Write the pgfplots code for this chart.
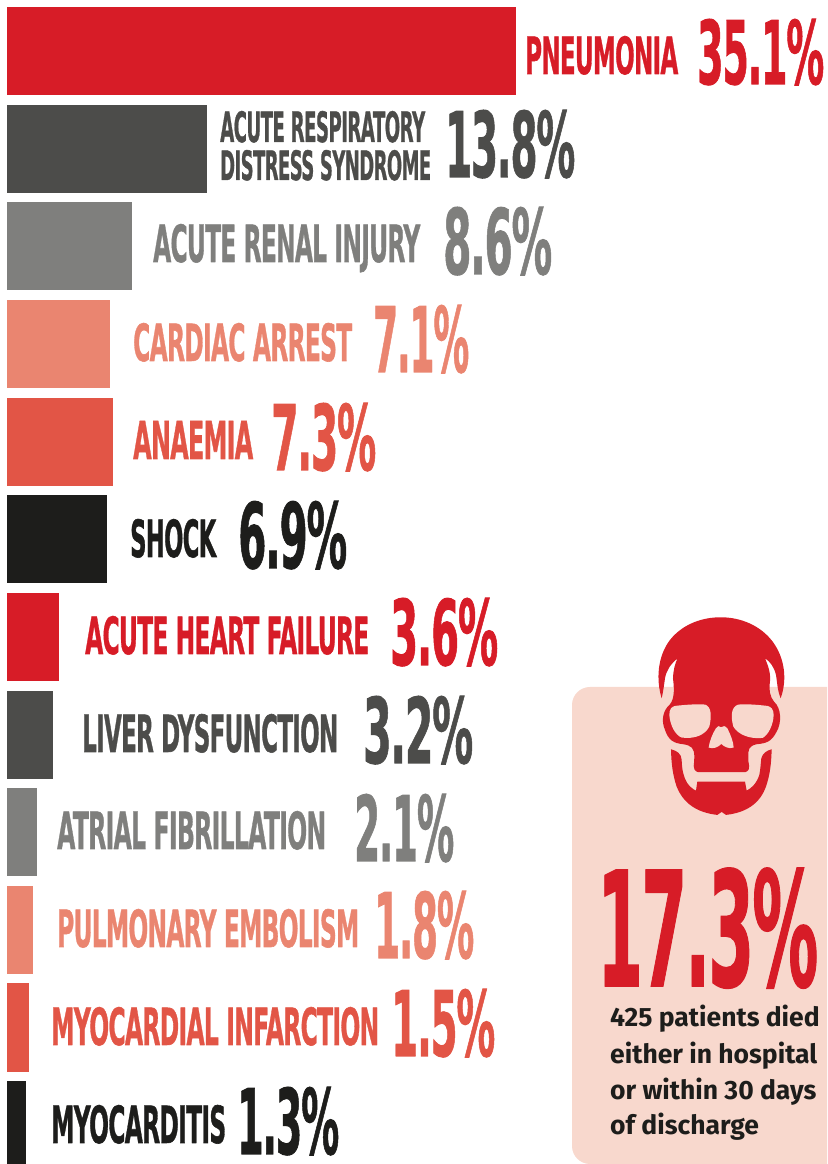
\documentclass[border=0pt]{standalone}
\usepackage{fontspec}
\setmainfont{Fira Sans}
\newfontfamily\headfont{DejaVu Sans}[BoldFont={DejaVu Sans Bold},BoldFeatures={LetterSpace=-3,FakeBold=1.2}]
\usepackage{graphicx}
\usepackage{pgfplots}
\pgfplotsset{compat=1.18}
\definecolor{cred}{HTML}{D71C27}
\definecolor{cdark}{HTML}{4C4C4A}
\definecolor{cgrey}{HTML}{7F7F7D}
\definecolor{csalmon}{HTML}{EA8570}
\definecolor{ccoral}{HTML}{E25546}
\definecolor{cblack}{HTML}{1D1D1B}
\definecolor{cpanel}{HTML}{F8D8CD}
% text stretched to a box given in reference pixels: x0,y0,x1,y1
\newcommand{\fit}[6]{%
  \pgfmathsetmacro{\fw}{#3-#1}\pgfmathsetmacro{\fh}{#4-#2}%
  \node[anchor=base west,inner sep=0pt,text=#5] at (#1,#4)
    {\resizebox{\fw pt}{\fh pt}{\headfont\bfseries #6}};}
\begin{document}
\begin{tikzpicture}
% hide axis leaves no frame, so fix the page size here
\path[use as bounding box] (0,0) rectangle (827pt,1164pt);
% panel behind the skull
\begin{scope}[x=1pt,y=-1pt,yshift=1164pt]
\fill[cpanel] (827,687) -- (590,687) arc[start angle=90,end angle=180,radius=18pt]
  -- (572,1146) arc[start angle=180,end angle=270,radius=18pt] -- (827,1164) -- cycle;
\end{scope}
\begin{axis}[
    at={(0pt,0pt)}, anchor=south west,
    scale only axis, width=827pt, height=1164pt,
    hide axis, xbar, bar width=88pt, bar shift=0pt,
    xmin=-0.483, xmax=56.55,
    y dir=reverse, ymin=-0.5223, ymax=11.398,
]
\addplot[draw=none,fill=cred] coordinates {(35.1,0)};
\addplot[draw=none,fill=cdark] coordinates {(13.8,1)};
\addplot[draw=none,fill=cgrey] coordinates {(8.6,2)};
\addplot[draw=none,fill=csalmon] coordinates {(7.1,3)};
\addplot[draw=none,fill=ccoral] coordinates {(7.3,4)};
\addplot[draw=none,fill=cblack] coordinates {(6.9,5)};
\addplot[draw=none,fill=cred] coordinates {(3.6,6)};
\addplot[draw=none,fill=cdark] coordinates {(3.2,7)};
\addplot[draw=none,fill=cgrey] coordinates {(2.1,8)};
\addplot[draw=none,fill=csalmon] coordinates {(1.8,9)};
\addplot[draw=none,fill=ccoral] coordinates {(1.5,10)};
\addplot[draw=none,fill=cblack] coordinates {(1.3,11)};
\end{axis}
\begin{scope}[x=1pt,y=-1pt,yshift=1164pt]
\fit{525}{36}{678}{74}{cred}{PNEUMONIA}
\fit{697}{19}{824}{84}{cred}{35.1\%}
\fit{220}{111}{425}{142}{cdark}{ACUTE RESPIRATORY}
\fit{220}{150}{431}{180}{cdark}{DISTRESS SYNDROME}
\fit{445}{110}{575}{177}{cdark}{13.8\%}
\fit{153}{224}{420}{262}{cgrey}{ACUTE RENAL INJURY}
\fit{443}{207}{552}{274}{cgrey}{8.6\%}
\fit{133}{323}{352}{361}{csalmon}{CARDIAC ARREST}
\fit{373}{305}{469}{372}{csalmon}{7.1\%}
\fit{133}{421}{253}{459}{ccoral}{ANAEMIA}
\fit{271}{403}{376}{470}{ccoral}{7.3\%}
\fit{130}{519}{216}{557}{cblack}{SHOCK}
\fit{238}{501}{347}{568}{cblack}{6.9\%}
\fit{85}{616}{369}{654}{cred}{ACUTE HEART FAILURE}
\fit{390}{598}{498}{665}{cred}{3.6\%}
\fit{82}{714}{338}{752}{cdark}{LIVER DYSFUNCTION}
\fit{363}{696}{473}{763}{cdark}{3.2\%}
\fit{57}{811}{326}{849}{cgrey}{ATRIAL FIBRILLATION}
\fit{354}{794}{454}{861}{cgrey}{2.1\%}
\fit{57}{909}{359}{947}{csalmon}{PULMONARY EMBOLISM}
\fit{374}{891}{474}{958}{csalmon}{1.8\%}
\fit{51}{1007}{379}{1045}{ccoral}{MYOCARDIAL INFARCTION}
\fit{391}{989}{495}{1056}{ccoral}{1.5\%}
\fit{51}{1105}{226}{1143}{cblack}{MYOCARDITIS}
\fit{237}{1087}{339}{1154}{cblack}{1.3\%}
\fit{597}{868}{818}{986}{cred}{17.3\%}
\begin{scope}[font=\fontsize{26.5pt}{30pt}\selectfont\bfseries,text=cblack]
\node[anchor=base west,inner sep=0pt] at (610,1027) {425 patients died};
\node[anchor=base west,inner sep=0pt] at (610,1064) {either in hospital};
\node[anchor=base west,inner sep=0pt] at (610,1100) {or within 30 days};
\node[anchor=base west,inner sep=0pt] at (610,1135) {of discharge};
\end{scope}
\end{scope}
% skull, in zoomed reference pixels
\begin{scope}[x=0.3333pt,y=-0.3333pt,yshift=1164pt,xshift=570pt]
\begin{scope}[shift={(0,1800)}]
\fill[cred] (275,295) .. controls (258,240) and (262,170) .. (300,120)
  .. controls (340,70) and (400,52) .. (452,52)
  .. controls (510,52) and (570,75) .. (608,125)
  .. controls (645,175) and (652,240) .. (632,295)
  .. controls (622,270) and (622,250) .. (618,225)
  .. controls (612,200) and (600,185) .. (585,175)
  .. controls (598,205) and (602,225) .. (600,245)
  .. controls (596,270) and (600,290) .. (612,305)
  .. controls (635,325) and (635,370) .. (620,395)
  .. controls (605,425) and (590,430) .. (560,433)
  .. controls (535,438) and (535,450) .. (535,470)
  .. controls (532,490) and (548,510) .. (525,517)
  -- (385,517) .. controls (362,510) and (375,490) .. (373,470)
  .. controls (373,445) and (365,437) .. (340,433)
  .. controls (310,430) and (295,420) .. (285,390)
  .. controls (272,360) and (280,330) .. (300,313)
  .. controls (315,295) and (312,260) .. (309,235)
  .. controls (310,210) and (315,190) .. (323,175)
  .. controls (300,195) and (290,210) .. (285,235)
  .. controls (282,255) and (280,275) .. (275,295) -- cycle;
\fill[cpanel] (315,318) .. controls (350,314) and (385,312) .. (405,314)
  .. controls (425,320) and (425,350) .. (418,380)
  .. controls (405,405) and (375,418) .. (335,413)
  .. controls (315,405) and (300,375) .. (298,345)
  .. controls (298,328) and (305,320) .. (315,318) -- cycle;
\fill[cpanel] (592,318) .. controls (560,314) and (525,312) .. (505,314)
  .. controls (483,320) and (482,350) .. (490,380)
  .. controls (505,405) and (540,418) .. (578,414)
  .. controls (595,405) and (610,375) .. (611,345)
  .. controls (611,328) and (603,320) .. (592,318) -- cycle;
\fill[cpanel] (438,385) .. controls (445,378) and (448,376) .. (453,382)
  .. controls (460,376) and (465,378) .. (472,385)
  .. controls (482,405) and (490,425) .. (491,443)
  .. controls (475,448) and (462,440) .. (454,432)
  .. controls (445,442) and (430,448) .. (416,443)
  .. controls (418,425) and (428,400) .. (438,385) -- cycle;
\fill[cred] (303,448) .. controls (320,452) and (335,462) .. (335,480)
  .. controls (336,510) and (340,530) .. (352,550)
  .. controls (360,560) and (368,568) .. (378,572)
  -- (382,545) -- (525,545) -- (530,572)
  .. controls (545,565) and (560,550) .. (568,525)
  .. controls (572,505) and (572,490) .. (574,475)
  .. controls (578,460) and (590,452) .. (605,448)
  .. controls (604,490) and (600,525) .. (588,560)
  .. controls (570,610) and (530,638) .. (468,645)
  -- (455,636) -- (442,645)
  .. controls (380,638) and (340,610) .. (320,560)
  .. controls (308,525) and (304,490) .. (303,448) -- cycle;
\end{scope}
\end{scope}
\end{tikzpicture}
\end{document}
